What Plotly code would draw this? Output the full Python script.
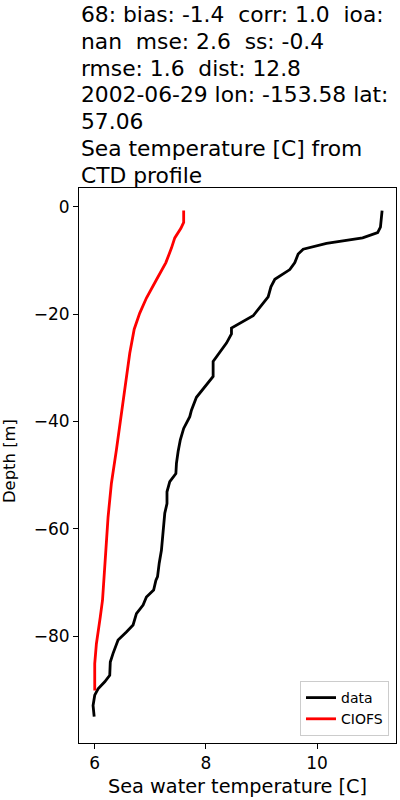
import plotly.graph_objects as go

data_temp = [11.17, 11.14, 11.09, 10.82, 10.17, 9.75, 9.66, 9.60, 9.51, 9.24, 9.17, 9.12, 9.02,
             8.85, 8.46, 8.46, 8.37, 8.16, 8.13, 8.13, 8.00, 7.83, 7.74, 7.71, 7.60, 7.54, 7.50,
             7.47, 7.46, 7.35, 7.30, 7.30, 7.26, 7.23, 7.20, 7.16, 7.13, 7.10, 7.06, 6.93, 6.87,
             6.75, 6.69, 6.57, 6.42, 6.33, 6.28, 6.27, 6.18, 6.06, 6.00, 5.97, 5.99]
data_depth = [-0.7, -3.8, -4.8, -5.8, -6.8, -7.9, -8.8, -10.4, -11.7, -13.5, -14.9, -16.8, -18.1,
              -20.3, -22.6, -23.7, -25.4, -28.4, -28.8, -31.6, -33.2, -35.5, -37.9, -39.1, -41.3, -43.4, -45.6,
              -47.8, -49.7, -51.2, -53.1, -55.3, -57.1, -60.2, -64.0, -66.4, -68.9, -69.6, -71.4, -72.7, -74.2,
              -75.8, -77.9, -79.2, -80.7, -83.2, -84.8, -87.3, -88.5, -89.8, -91.0, -92.9, -95.0]

model_temp = [7.60, 7.60, 7.55, 7.44, 7.38, 7.28, 7.11, 6.93, 6.81, 6.71, 6.63, 6.51, 6.39,
              6.30, 6.24, 6.20, 6.15, 6.14, 6.10, 6.03, 6.00, 6.00]
model_depth = [-0.7, -2.9, -4.0, -5.8, -7.7, -10.4, -13.6, -17.0, -19.8, -22.8, -27.3, -36.6, -45.3,
               -51.5, -57.8, -64.0, -70.8, -73.3, -76.4, -81.4, -85.1, -90.1]

x_ticks = [6, 8, 10]
y_ticks = [0, -20, -40, -60, -80]

title_lines = ["68: bias: -1.4\u00a0\u00a0corr: 1.0\u00a0\u00a0ioa:",
               "nan\u00a0\u00a0mse: 2.6\u00a0\u00a0ss: -0.4",
               "rmse: 1.6\u00a0\u00a0dist: 12.8",
               "2002-06-29 lon: -153.58 lat:",
               "57.06",
               "Sea temperature [C] from",
               "CTD profile"]

fig = go.Figure()
fig.add_trace(go.Scatter(x=data_temp, y=data_depth, mode="lines", name="data",
                         line=dict(color="black", width=2.8)))
fig.add_trace(go.Scatter(x=model_temp, y=model_depth, mode="lines", name="CIOFS",
                         line=dict(color="red", width=2.8)))

annotations = []
for i, line in enumerate(title_lines):
    annotations.append(dict(text=line, xref="paper", yref="paper", x=0, y=1,
                            xanchor="left", yanchor="middle", align="left",
                            yshift=188 - 14.5 - 26.75 * i, showarrow=False,
                            font=dict(family="DejaVu Sans", size=21.8, color="black")))
annotations += [
    dict(text="Sea water temperature [C]", xref="paper", yref="paper", x=0.5, y=0,
         xanchor="center", yanchor="top", yshift=-29.5, showarrow=False,
         font=dict(family="DejaVu Sans", size=19.3, color="black")),
    dict(text="Depth [m]", xref="paper", yref="paper", x=0, y=0.5, textangle=-90,
         xanchor="right", yanchor="middle", xshift=-58, yshift=4, showarrow=False,
         font=dict(family="DejaVu Sans", size=16.4, color="black")),
]

fig.update_layout(
    width=400, height=800,
    margin=dict(l=79, r=4, t=188, b=57, autoexpand=False),
    paper_bgcolor="white", plot_bgcolor="white",
    font=dict(family="DejaVu Sans", size=17, color="black"),
    legend=dict(x=0.978, y=0.0126, xanchor="right", yanchor="bottom",
                bgcolor="white", bordercolor="#cccccc", borderwidth=1,
                font=dict(family="DejaVu Sans", size=14, color="black")),
    xaxis=dict(range=[5.717, 11.42], tickvals=x_ticks, ticktext=[str(t) for t in x_ticks],
               showgrid=False, zeroline=False, showline=True, linecolor="black", linewidth=1,
               mirror=True, ticks="outside", ticklen=5, tickcolor="black", automargin=False),
    yaxis=dict(range=[-99.9, 3.5], tickvals=y_ticks,
               showgrid=False, zeroline=False, showline=True, linecolor="black", linewidth=1,
               mirror=True, ticks="outside", ticklen=5, tickcolor="black", automargin=False),
    annotations=annotations,
)

fig.write_html("out.html", config={"displayModeBar": False},
               post_script="document.body.style.margin='0';")
